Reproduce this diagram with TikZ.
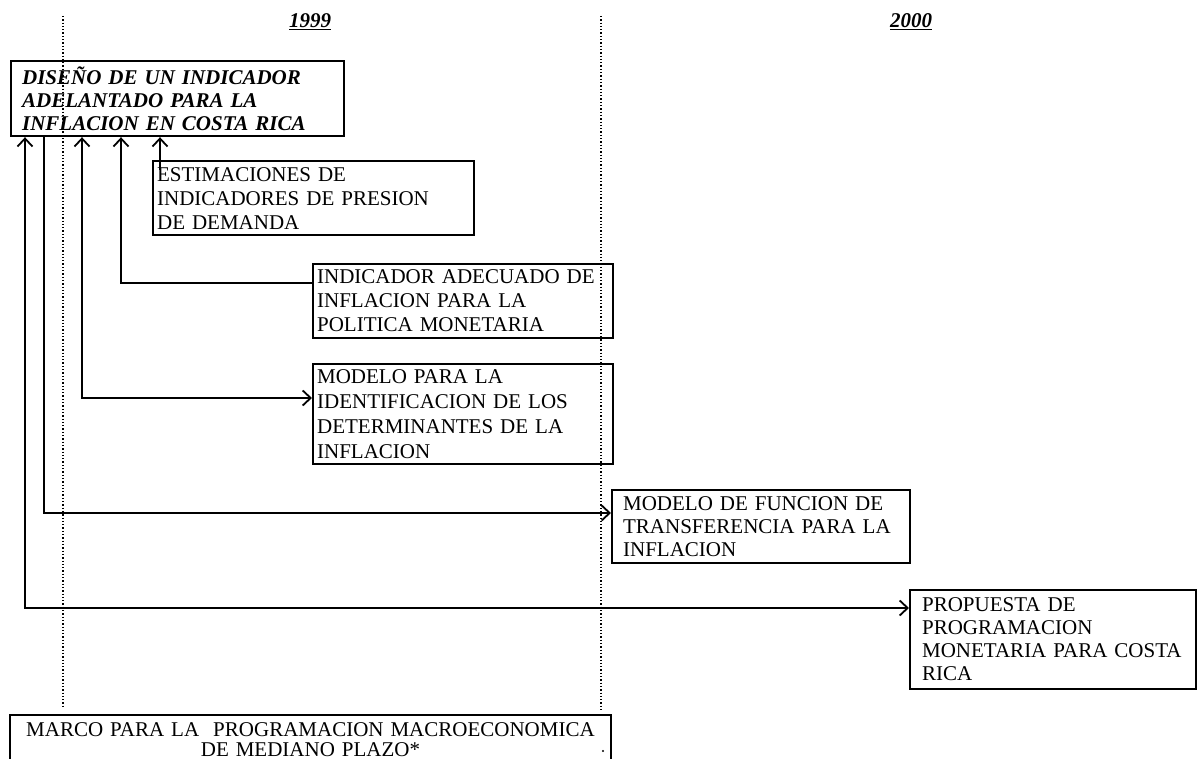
\documentclass[tikz,border=0pt]{standalone}
\usepackage{fontspec}
\setmainfont{Liberation Serif}
\usetikzlibrary{arrows.meta}
\begin{document}
\begin{tikzpicture}[
        x=1pt, y=-1pt,
        every node/.style={font=\fontsize{21}{24}\selectfont},
        blk/.style={draw, line width=2.2pt, anchor=north west, align=left, inner ysep=1pt},
        goalbox/.style={blk, font=\fontsize{21}{23}\selectfont\bfseries\itshape},
        yearlbl/.style={font=\fontsize{21}{24}\selectfont\bfseries\itshape},
        guide/.style={dotted, line width=1.3pt},
        link/.style={line width=1.8pt},
        >={Straight Barb[length=8pt,width=15pt]},
    ]
    \useasboundingbox (0,0) rectangle (1197,759);
    \node[yearlbl](y99) at (310,22){\underline{1999}};
    \node[yearlbl](y00) at (911,22){\underline{2000}};
    \node[goalbox, minimum width=333pt, minimum height=75pt, text width=311pt, inner xsep=11pt](goal) at (10,60)
        {DISEÑO DE UN INDICADOR\\ ADELANTADO PARA LA\\ INFLACION EN COSTA RICA};
    \node[blk, minimum width=321pt, minimum height=74pt, text width=313pt, inner xsep=4pt](estim) at (152,160)
        {ESTIMACIONES DE\\ INDICADORES DE PRESION\\ DE DEMANDA};
    \node[blk, minimum width=300pt, minimum height=74pt, text width=292pt, inner xsep=4pt](indic) at (312,263)
        {INDICADOR ADECUADO DE\\ INFLACION PARA LA\\ POLITICA MONETARIA};
    \node[blk, minimum width=300pt, minimum height=100pt, text width=292pt, inner xsep=4pt,
        font=\fontsize{21}{25}\selectfont](ident) at (312,363)
        {MODELO PARA LA\\ IDENTIFICACION DE LOS\\ DETERMINANTES DE LA\\ INFLACION};
    \node[blk, minimum width=298pt, minimum height=73pt, text width=276pt, inner xsep=11pt,
        font=\fontsize{21}{23}\selectfont](transf) at (611,489)
        {MODELO DE FUNCION DE\\ TRANSFERENCIA PARA LA\\ INFLACION};
    \node[blk, minimum width=286pt, minimum height=99pt, text width=262pt, inner xsep=12pt,
        font=\fontsize{21}{23}\selectfont](prop) at (909,589)
        {PROPUESTA DE\\ PROGRAMACION\\ MONETARIA PARA COSTA\\ RICA};
    \node[blk, anchor=north, align=center, minimum width=601pt, text width=590pt,
        inner ysep=7pt, font=\fontsize{21}{20}\selectfont](marco) at (310.5,714)
        {MARCO PARA LA\ \ PROGRAMACION MACROECONOMICA\\ DE MEDIANO PLAZO*\rule[-14pt]{0pt}{1pt}};
    \draw[guide] (63,16) -- (63,708);
    \draw[guide] (601,16) -- (601,712);
    \fill (603,751) circle (1.2pt);
    \coordinate (estimin) at ([xshift=8pt,yshift=-10pt]estim.north west);
    \draw[link,<->] ([xshift=15pt]goal.south west) |- ([yshift=-19pt]prop.north west);
    \draw[link,->] ([xshift=34pt]goal.south west) |- ([yshift=-24pt]transf.north west);
    \draw[link,<->] ([xshift=72pt]goal.south west) |- ([yshift=-35pt]ident.north west);
    \draw[link,<-] ([xshift=111pt]goal.south west) |- ([yshift=-20pt]indic.north west);
    \draw[link,<-] (goal.south -| estimin) -- (estimin);
\end{tikzpicture}
\end{document}
